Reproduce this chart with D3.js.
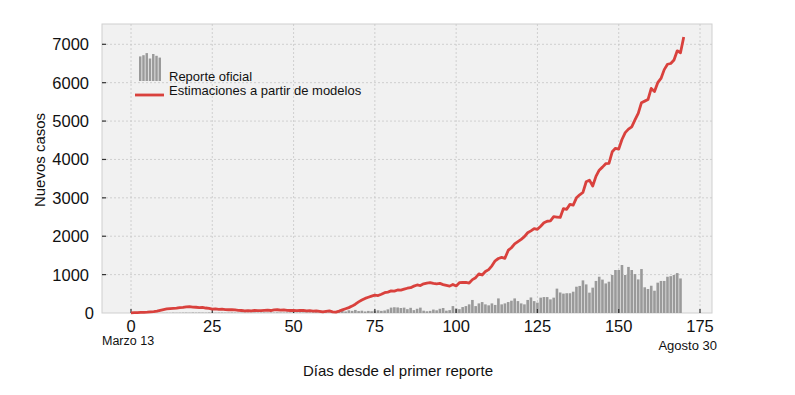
<!DOCTYPE html>
<html>
<head>
<meta charset="utf-8">
<script src="https://cdn.jsdelivr.net/npm/d3@7"></script>
<style>
  body { margin: 0; background: #fff; }
  svg { display: block; }
  text { font-family: "Liberation Sans", Arial, sans-serif; fill: #111; }
</style>
</head>
<body>
<svg width="795" height="395"></svg>
<script>
// official daily reports, day 0 .. 170
var reportes = [
    0, 0, 1, 0, 2, 1, 3, 2, 4, 3, 5, 6, 4, 8, 6, 7, 9, 10, 8, 12,
    9, 11, 10, 8, 12, 9, 7, 10, 11, 8, 9, 12, 10, 7, 9, 11, 8, 10, 12, 9,
    11, 13, 10, 12, 9, 14, 11, 10, 13, 12, 15, 11, 14, 12, 16, 13, 15, 18, 14, 17,
    20, 16, 22, 30, 45, 60, 40, 70, 55, 80, 50, 60, 40, 55, 45, 60, 70, 55, 65, 95,
    140, 150, 145, 130, 140, 100, 135, 75, 110, 140, 60, 45, 55, 90, 70, 110, 130, 60, 75, 180,
    120, 100, 155, 180, 225, 340, 180, 250, 285, 225, 200, 250, 210, 380, 225, 250, 285, 320, 380, 310,
    250, 225, 340, 405, 310, 270, 400, 415, 415, 355, 400, 635, 535, 505, 515, 515, 555, 685, 705, 850,
    745, 530, 660, 835, 945, 870, 770, 815, 990, 1120, 1120, 1250, 990, 1200, 1120, 1015, 875, 1145, 670, 625,
    710, 580, 790, 835, 835, 945, 960, 990, 1040, 900
];

// model estimates, day 0 .. 170
var estimaciones = [
    5, 8, 10, 15, 18, 22, 28, 35, 50, 70, 90, 105, 115, 120, 125, 140, 145, 160, 165, 155,
    150, 140, 145, 130, 120, 100, 105, 95, 100, 90, 85, 90, 80, 70, 65, 55, 60, 55, 65, 60,
    60, 70, 75, 65, 80, 85, 75, 80, 70, 65, 70, 60, 70, 65, 55, 60, 50, 55, 45, 30,
    45, 55, 30, 25, 50, 80, 110, 140, 180, 230, 290, 340, 380, 410, 440, 465, 455, 490, 530, 545,
    575, 570, 600, 595, 620, 645, 660, 700, 730, 715, 760, 780, 790, 770, 760, 770, 740, 720, 700, 745,
    705, 790, 800, 795, 780, 870, 920, 1020, 990, 1080, 1130, 1230, 1360, 1420, 1450, 1425, 1630, 1700, 1800, 1860,
    1920, 1990, 2090, 2140, 2200, 2180, 2260, 2350, 2390, 2400, 2510, 2500, 2490, 2720, 2700, 2830, 2810, 3000, 3080, 3140,
    3420, 3460, 3310, 3560, 3720, 3800, 3890, 3900, 4200, 4290, 4270, 4520, 4700, 4790, 4850, 5030, 5200, 5480, 5520, 5560,
    5850, 5770, 6000, 6110, 6340, 6480, 6500, 6590, 6830, 6780, 7190
];

var xTicks = [0, 25, 50, 75, 100, 125, 150, 175];
var yTicks = [0, 1000, 2000, 3000, 4000, 5000, 6000, 7000];
var legendBars = [0.82, 0.86, 0.93, 0.75, 0.9, 0.84, 0.78];

var svg = d3.select("svg");
var plotLeft = 102, plotRight = 712, plotTop = 24, plotBottom = 313;

var x = d3.scaleLinear().domain([0, 175]).range([131, 700]);
var y = d3.scaleLinear().domain([0, 7000]).range([plotBottom, 44.3]);

// plot background
svg.append("rect")
    .attr("x", plotLeft).attr("y", plotTop)
    .attr("width", plotRight - plotLeft).attr("height", plotBottom - plotTop)
    .style("fill", "#f1f1f1")
    .style("stroke", "#cfcfcf")
    .style("stroke-width", 1);

// grid lines
var grid = svg.append("g").style("stroke", "#c6c6c6").style("stroke-dasharray", "2,2").style("stroke-width", 0.8);
grid.selectAll(".gx").data(xTicks).enter().append("line")
    .attr("x1", function(d){ return x(d); }).attr("x2", function(d){ return x(d); })
    .attr("y1", plotTop).attr("y2", plotBottom);
grid.selectAll(".gy").data(yTicks.slice(1)).enter().append("line")
    .attr("x1", plotLeft).attr("x2", plotRight)
    .attr("y1", function(d){ return y(d); }).attr("y2", function(d){ return y(d); });

// bars
var bw = x(0.8) - x(0);
svg.append("g").selectAll("rect")
    .data(reportes).enter()
    .append("rect")
    .attr("x", function(d, i){ return x(i) - bw / 2; })
    .attr("y", function(d){ return y(d); })
    .attr("width", bw)
    .attr("height", function(d){ return plotBottom - y(d); })
    .style("fill", "#9a9a9a");

// ticks pointing inward
var ticks = svg.append("g").style("stroke", "#333").style("stroke-width", 1.2);
ticks.selectAll(".tx").data(xTicks).enter().append("line")
    .attr("x1", function(d){ return x(d); }).attr("x2", function(d){ return x(d); })
    .attr("y1", plotBottom).attr("y2", plotBottom - 4);
ticks.selectAll(".ty").data(yTicks.slice(1)).enter().append("line")
    .attr("x1", plotLeft).attr("x2", plotLeft + 4)
    .attr("y1", function(d){ return y(d); }).attr("y2", function(d){ return y(d); });

// estimates line
var line = d3.line()
    .x(function(d, i){ return x(i); })
    .y(function(d){ return y(d); });
svg.append("path")
    .datum(estimaciones)
    .attr("d", line)
    .style("fill", "none")
    .style("stroke", "#d9413d")
    .style("stroke-width", 2.8)
    .style("stroke-linejoin", "round");

// tick labels
svg.append("g").selectAll("text")
    .data(xTicks).enter().append("text")
    .attr("x", function(d){ return x(d); })
    .attr("y", 332)
    .attr("text-anchor", "middle")
    .attr("font-size", 16.5)
    .text(function(d){ return d; });
svg.append("g").selectAll("text")
    .data(yTicks).enter().append("text")
    .attr("x", function(d){ return d == 0 ? 94 : 89; })
    .attr("y", function(d){ return y(d) + 6; })
    .attr("text-anchor", "end")
    .attr("font-size", 16.5)
    .text(function(d){ return d; });

svg.append("text").attr("x", 102).attr("y", 345).attr("font-size", 12.5).text("Marzo 13");
svg.append("text").attr("x", 717).attr("y", 350).attr("text-anchor", "end").attr("font-size", 13).text("Agosto 30");

// axis titles
svg.append("text").attr("x", 398).attr("y", 376).attr("text-anchor", "middle")
    .attr("font-size", 15).text("Días desde el primer reporte");
svg.append("text").attr("transform", "translate(45,160) rotate(-90)")
    .attr("text-anchor", "middle").attr("font-size", 15).text("Nuevos casos");

// legend
var lg = svg.append("g");
var lx = d3.scaleBand().domain(d3.range(legendBars.length)).range([139, 161]).paddingInner(0.25);
lg.selectAll("rect").data(legendBars).enter().append("rect")
    .attr("x", function(d, i){ return lx(i); })
    .attr("y", function(d){ return 81 - 30 * d; })
    .attr("width", lx.bandwidth())
    .attr("height", function(d){ return 30 * d; })
    .style("fill", "#9a9a9a");
lg.append("text").attr("x", 169).attr("y", 81).attr("font-size", 13).text("Reporte oficial");
lg.append("line").attr("x1", 135).attr("x2", 164).attr("y1", 95).attr("y2", 95)
    .style("stroke", "#d9413d").style("stroke-width", 2.8);
lg.append("text").attr("x", 169).attr("y", 95).attr("font-size", 13).text("Estimaciones a partir de modelos");
</script>
</body>
</html>
